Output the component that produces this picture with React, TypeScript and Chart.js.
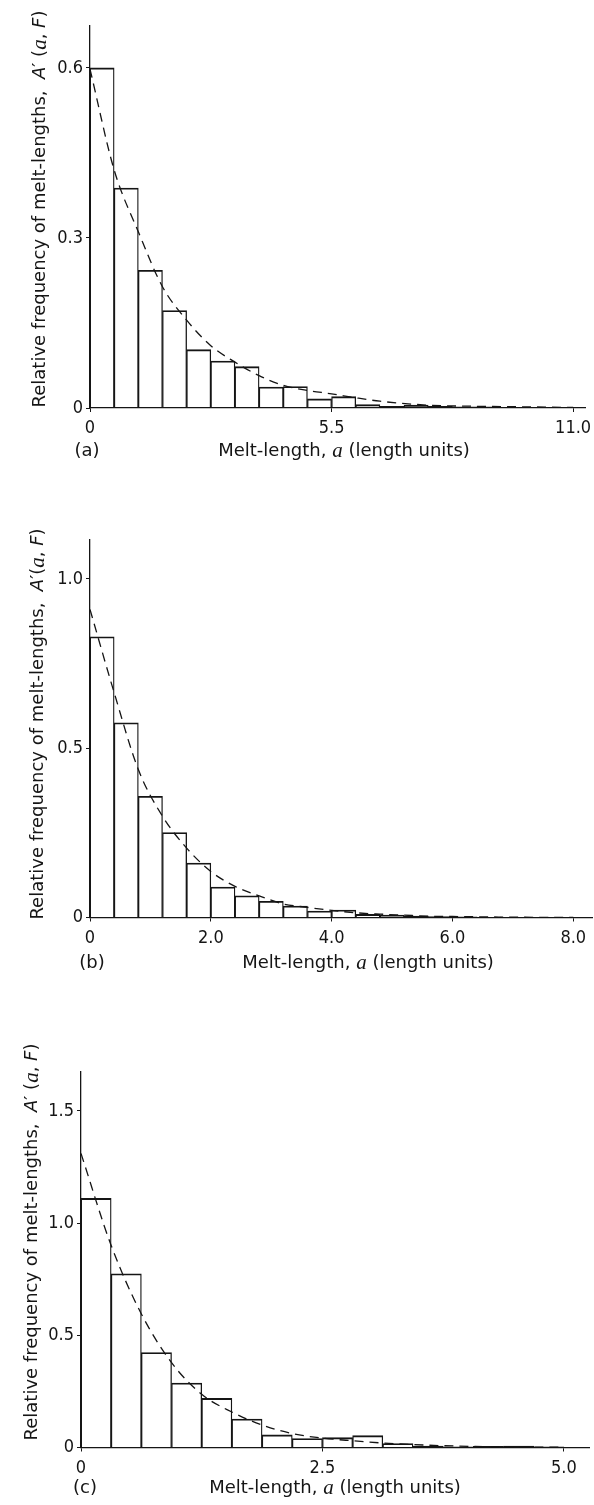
import React, { useEffect, useRef } from "react";
import { Chart, registerables } from "chart.js";

Chart.register(...registerables);

// ---------- Panel (a) data ----------
const A_BIN_WIDTH = 0.55;
const A_FREQ = [0.6, 0.388, 0.243, 0.172, 0.103, 0.083, 0.073, 0.037, 0.038, 0.016, 0.02, 0.006, 0.003, 0.005, 0.003, 0.002, 0.002, 0.001, 0.001, 0.001];
const A_CURVE_X = [0, 0.55, 1.1, 1.65, 2.2, 2.75, 3.3, 3.85, 4.4, 4.95, 5.5, 6.05, 6.6, 7.7, 8.8, 9.9, 11.0];
const A_CURVE_Y = [0.598, 0.42, 0.311, 0.214, 0.155, 0.11, 0.081, 0.057, 0.04, 0.031, 0.025, 0.018, 0.012, 0.005, 0.003, 0.002, 0.001];
const A_X_TICKS = [0, 5.5, 11];
const A_X_TICK_LABELS = ["0", "5.5", "11.0"];
const A_Y_TICKS = [0, 0.3, 0.6];
const A_Y_TICK_LABELS = ["0", "0.3", "0.6"];

// ---------- Panel (b) data ----------
const B_BIN_WIDTH = 0.4;
const B_FREQ = [0.829, 0.575, 0.358, 0.251, 0.161, 0.09, 0.064, 0.048, 0.034, 0.019, 0.022, 0.009, 0.007, 0.004, 0.003, 0.002, 0.001, 0.001, 0.001, 0];
const B_CURVE_X = [0, 0.4, 0.8, 1.2, 1.6, 2.0, 2.4, 2.8, 3.2, 3.6, 4.0, 4.4, 4.8, 5.2, 5.6, 6.0, 7.0, 8.0];
const B_CURVE_Y = [0.91, 0.664, 0.437, 0.299, 0.205, 0.136, 0.092, 0.064, 0.04, 0.03, 0.021, 0.014, 0.01, 0.007, 0.004, 0.003, 0.001, 0];
const B_X_TICKS = [0, 2, 4, 6, 8];
const B_X_TICK_LABELS = ["0", "2.0", "4.0", "6.0", "8.0"];
const B_Y_TICKS = [0, 0.5, 1.0];
const B_Y_TICK_LABELS = ["0", "0.5", "1.0"];

// ---------- Panel (c) data ----------
const C_BIN_WIDTH = 0.3125;
const C_FREQ = [1.11, 0.774, 0.423, 0.287, 0.219, 0.127, 0.056, 0.04, 0.044, 0.053, 0.018, 0.006, 0.003, 0.005, 0.006, 0.003];
const C_CURVE_X = [0, 0.3125, 0.625, 0.9375, 1.25, 1.5625, 1.875, 2.1875, 2.5, 2.8125, 3.125, 3.4375, 3.75, 4.0625, 4.5, 5.0];
const C_CURVE_Y = [1.31, 0.9, 0.595, 0.378, 0.237, 0.158, 0.1, 0.062, 0.042, 0.03, 0.02, 0.013, 0.008, 0.005, 0.002, 0.001];
const C_X_TICKS = [0, 2.5, 5];
const C_X_TICK_LABELS = ["0", "2.5", "5.0"];
const C_Y_TICKS = [0, 0.5, 1.0, 1.5];
const C_Y_TICK_LABELS = ["0", "0.5", "1.0", "1.5"];

// ---------- text ----------
type Seg = { t: string; f: "n" | "i" | "s" };
const Y_TITLE_SPACED: Seg[] = [
  { t: "Relative frequency of melt-lengths,  ", f: "n" },
  { t: "A", f: "i" },
  { t: "′ (", f: "n" },
  { t: "a", f: "s" },
  { t: ", ", f: "n" },
  { t: "F", f: "i" },
  { t: ")", f: "n" },
];
const Y_TITLE_TIGHT: Seg[] = [
  { t: "Relative frequency of melt-lengths,  ", f: "n" },
  { t: "A", f: "i" },
  { t: "′(", f: "n" },
  { t: "a", f: "s" },
  { t: ", ", f: "n" },
  { t: "F", f: "i" },
  { t: ")", f: "n" },
];
const X_TITLE: Seg[] = [
  { t: "Melt-length, ", f: "n" },
  { t: "a", f: "s" },
  { t: " (length units)", f: "n" },
];

const INK = "#151515";
const SANS = "'DejaVu Sans', 'Noto Sans', sans-serif";
const TICK_FAMILY = "'DejaVu Sans Condensed', 'DejaVu Sans', sans-serif";

function segFont(f: string): string {
  if (f === "i") return `italic 18px ${SANS}`;
  if (f === "s") return `italic 21px 'Liberation Serif', serif`;
  return `18px ${SANS}`;
}

function drawRich(ctx: CanvasRenderingContext2D, segs: Seg[], cx: number, cy: number, angle: number) {
  ctx.save();
  ctx.translate(cx, cy);
  ctx.rotate(angle);
  ctx.textBaseline = "middle";
  ctx.textAlign = "left";
  let total = 0;
  const widths = segs.map((s) => {
    ctx.font = segFont(s.f);
    const w = ctx.measureText(s.t).width;
    total += w;
    return w;
  });
  let x = -total / 2;
  segs.forEach((s, i) => {
    ctx.font = segFont(s.f);
    ctx.fillText(s.t, x, 0);
    x += widths[i];
  });
  ctx.restore();
}

const panelLabels = {
  id: "panelLabels",
  afterDraw(chart: any, _args: any, opts: any) {
    const ctx = chart.ctx as CanvasRenderingContext2D;
    ctx.save();
    ctx.fillStyle = INK;
    drawRich(ctx, opts.yTitle, opts.yTitleX, opts.yTitleY, -Math.PI / 2);
    drawRich(ctx, X_TITLE, opts.xTitleX, opts.xTitleY, 0);
    ctx.font = `18px ${SANS}`;
    ctx.textAlign = "center";
    ctx.textBaseline = "middle";
    ctx.fillText(opts.tag, opts.tagX, opts.tagY);
    ctx.restore();
  },
};

type PanelCfg = {
  binWidth: number;
  freq: number[];
  curveX: number[];
  curveY: number[];
  xTicks: number[];
  xTickLabels: string[];
  yTicks: number[];
  yTickLabels: string[];
  xMax: number;
  yMax: number;
  top: number;
  height: number;
  yAxisWidth: number;
  rightPad: number;
  topPad: number;
  xAxisHeight: number;
  yTitle: Seg[];
  yTitleX: number;
  yTitleY: number;
  xTitleX: number;
  xTitleY: number;
  tag: string;
  tagX: number;
  tagY: number;
};

const PANELS: PanelCfg[] = [
  {
    binWidth: A_BIN_WIDTH, freq: A_FREQ, curveX: A_CURVE_X, curveY: A_CURVE_Y,
    xTicks: A_X_TICKS, xTickLabels: A_X_TICK_LABELS, yTicks: A_Y_TICKS, yTickLabels: A_Y_TICK_LABELS,
    xMax: 11.27, yMax: 0.674,
    top: 0, height: 480, yAxisWidth: 90, rightPad: 9, topPad: 26, xAxisHeight: 72,
    yTitle: Y_TITLE_SPACED, yTitleX: 40, yTitleY: 209, xTitleX: 344, xTitleY: 451,
    tag: "(a)", tagX: 87, tagY: 451,
  },
  {
    binWidth: B_BIN_WIDTH, freq: B_FREQ, curveX: B_CURVE_X, curveY: B_CURVE_Y,
    xTicks: B_X_TICKS, xTickLabels: B_X_TICK_LABELS, yTicks: B_Y_TICKS, yTickLabels: B_Y_TICK_LABELS,
    xMax: 8.31, yMax: 1.115,
    top: 480, height: 510, yAxisWidth: 90, rightPad: 2, topPad: 60, xAxisHeight: 72.5,
    yTitle: Y_TITLE_TIGHT, yTitleX: 38, yTitleY: 244, xTitleX: 368, xTitleY: 483,
    tag: "(b)", tagX: 92, tagY: 483,
  },
  {
    binWidth: C_BIN_WIDTH, freq: C_FREQ, curveX: C_CURVE_X, curveY: C_CURVE_Y,
    xTicks: C_X_TICKS, xTickLabels: C_X_TICK_LABELS, yTicks: C_Y_TICKS, yTickLabels: C_Y_TICK_LABELS,
    xMax: 5.26, yMax: 1.673,
    top: 990, height: 515, yAxisWidth: 81, rightPad: 5, topPad: 82, xAxisHeight: 57.5,
    yTitle: Y_TITLE_SPACED, yTitleX: 32, yTitleY: 252, xTitleX: 335, xTitleY: 498,
    tag: "(c)", tagX: 85, tagY: 498,
  },
];

function Panel({ cfg }: { cfg: PanelCfg }) {
  const ref = useRef<HTMLCanvasElement>(null);
  useEffect(() => {
    if (!ref.current) return;
    const bars = cfg.freq.map((f, i) => ({ x: (i + 0.5) * cfg.binWidth, y: f }));
    const curve = cfg.curveX.map((x, i) => ({ x, y: cfg.curveY[i] }));
    const tickFont = { family: TICK_FAMILY, size: 18 };
    const chart = new Chart(ref.current, {
      type: "bar",
      data: {
        datasets: [
          {
            type: "line",
            data: curve,
            borderColor: INK,
            borderWidth: 1.3,
            borderDash: [9, 6],
            pointRadius: 0,
            fill: false,
            tension: 0.4,
            cubicInterpolationMode: "monotone",
          } as any,
          {
            type: "bar",
            data: bars,
            backgroundColor: "rgba(255,255,255,0)",
            borderColor: INK,
            borderWidth: { top: 1.2, left: 0.65, right: 0.65, bottom: 0 },
            borderSkipped: false,
            barPercentage: 1,
            categoryPercentage: 1,
          } as any,
        ],
      },
      options: {
        animation: false,
        responsive: false,
        devicePixelRatio: 1,
        layout: { padding: { left: 0, right: cfg.rightPad, top: cfg.topPad, bottom: 0 } },
        plugins: {
          legend: { display: false },
          tooltip: { enabled: false },
          panelLabels: {
            yTitle: cfg.yTitle, yTitleX: cfg.yTitleX, yTitleY: cfg.yTitleY,
            xTitleX: cfg.xTitleX, xTitleY: cfg.xTitleY,
            tag: cfg.tag, tagX: cfg.tagX, tagY: cfg.tagY,
          },
        } as any,
        scales: {
          x: {
            type: "linear",
            min: 0,
            max: cfg.xMax,
            offset: false,
            grid: { display: true, drawOnChartArea: false, drawTicks: true, tickLength: 4, color: INK, lineWidth: 1, offset: false },
            border: { display: true, color: INK, width: 1.3 },
            ticks: {
              font: tickFont,
              color: INK,
              padding: 6,
              maxRotation: 0,
              autoSkip: false,
              callback: (v: any) => {
                const i = cfg.xTicks.indexOf(Number(v));
                return i >= 0 ? cfg.xTickLabels[i] : "";
              },
            },
            afterBuildTicks: (s: any) => {
              s.ticks = cfg.xTicks.map((v) => ({ value: v }));
            },
            afterFit: (s: any) => {
              s.height = cfg.xAxisHeight;
              s.paddingLeft = 0;
              s.paddingRight = 0;
            },
          },
          y: {
            type: "linear",
            min: 0,
            max: cfg.yMax,
            grid: { display: true, drawOnChartArea: false, drawTicks: true, tickLength: 4, color: INK, lineWidth: 1 },
            border: { display: true, color: INK, width: 1.3 },
            ticks: {
              font: tickFont,
              color: INK,
              padding: 3,
              autoSkip: false,
              callback: (v: any) => {
                const i = cfg.yTicks.indexOf(Number(v));
                return i >= 0 ? cfg.yTickLabels[i] : "";
              },
            },
            afterBuildTicks: (s: any) => {
              s.ticks = cfg.yTicks.map((v) => ({ value: v }));
            },
            afterFit: (s: any) => {
              s.width = cfg.yAxisWidth;
              s.paddingTop = 0;
              s.paddingBottom = 0;
            },
          },
        } as any,
      },
      plugins: [panelLabels as any],
    });
    return () => chart.destroy();
  }, [cfg]);
  return (
    <canvas
      ref={ref}
      width={594}
      height={cfg.height}
      style={{ position: "absolute", left: 0, top: cfg.top, display: "block" }}
    />
  );
}

export default function App() {
  return (
    <div style={{ position: "absolute", left: 0, top: 0, width: 594, height: 1505, background: "#fff" }}>
      {PANELS.map((p, i) => (
        <Panel key={i} cfg={p} />
      ))}
    </div>
  );
}
